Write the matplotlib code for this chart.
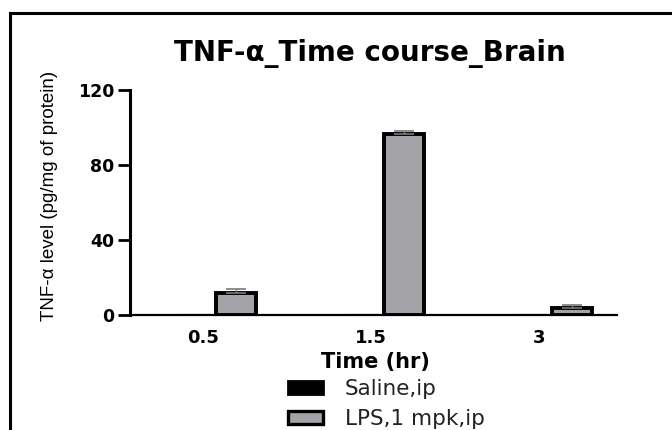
import matplotlib
matplotlib.use("Agg")
import matplotlib.pyplot as plt
from matplotlib.patches import Rectangle, Patch
import numpy as np

plt.rcParams['font.family'] = ['DejaVu Sans']

time_labels = ["0.5", "1.5", "3"]
saline_mean = [0, 0, 0]
saline_err = [0, 0, 0]
lps_mean = [12, 96.5, 4]
lps_err = [2, 1.5, 1.5]
series_names = ["Saline,ip", "LPS,1 mpk,ip"]
yticks = [0, 40, 80, 120]

W, H = 672, 430
fig = plt.figure(figsize=(W/100, H/100), dpi=100)
ax = fig.add_axes([130/W, 1-315/H, (617-130)/W, (315-90)/H])

x = np.arange(len(time_labels))
bw = 0.24
lps_color = '#a3a3a8'
ekw = dict(elinewidth=1, capthick=1.2)
ax.bar(x - bw/2, saline_mean, bw, color='black', edgecolor='black', linewidth=2.2,
       yerr=[[0]*3, saline_err], ecolor='#7a7a7a', capsize=7, error_kw=ekw, zorder=3)
ax.bar(x + bw/2, lps_mean, bw, color=lps_color, edgecolor='black', linewidth=2.8,
       yerr=[[0]*3, lps_err], ecolor='#7a7a7a', capsize=7, error_kw=ekw, zorder=3)

ax.set_xlim(-0.512, 2.387)
ax.set_ylim(0, 120)
ax.set_yticks(yticks)
ax.set_yticklabels([str(v) for v in yticks], fontweight='bold', fontsize=12.5)
ax.set_xticks(x - 0.077)
ax.set_xticklabels(time_labels, fontweight='bold', fontsize=13)
ax.tick_params(axis='x', length=0, pad=10)
ax.tick_params(axis='y', length=9, width=2, pad=2)
for s in ['top', 'right']:
    ax.spines[s].set_visible(False)
ax.spines['left'].set_linewidth(2.2)
ax.spines['bottom'].set_linewidth(1.6)
for s in ['left', 'bottom']:
    ax.spines[s].set_zorder(5)

fig.text(375/W, 1-362/H, "Time (hr)", ha='center', va='center', fontsize=15, fontweight='bold')
fig.text(50/W, 1-196/H, "TNF-\u03b1 level (pg/mg of protein)", rotation=90, ha='center', va='center',
         fontsize=13.5, family=['Liberation Sans', 'DejaVu Sans'])
fig.text(370/W, 1-54/H, "TNF-\u03b1_Time course_Brain", ha='center', va='center', fontsize=20, fontweight='bold')

handles = [Patch(facecolor='black', edgecolor='black', linewidth=2),
           Patch(facecolor=lps_color, edgecolor='black', linewidth=2.4)]
fig.legend(handles, series_names, loc='center left', bbox_to_anchor=(288/W, 1-404/H),
           frameon=False, fontsize=15.5, handlelength=1.63, handleheight=0.53,
           handletextpad=1.0, labelspacing=0.45, borderpad=0, borderaxespad=0,
           labelcolor='#222222')

fig.add_artist(Rectangle((10/W, -0.05), 1.2, 1+0.05-13/H, transform=fig.transFigure,
                         fill=False, edgecolor='black', linewidth=2.2))

fig.savefig("out.png", dpi=100)
